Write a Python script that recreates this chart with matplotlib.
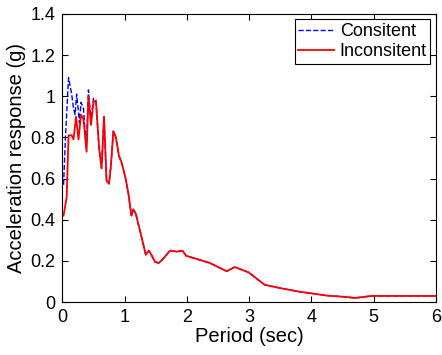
import numpy as np
import matplotlib.pyplot as plt

plt.rcParams['font.family'] = ['Liberation Sans', 'DejaVu Sans']

# shared part of both spectra (T > 0.6 s)
tail_t = [0.63, 0.67, 0.71, 0.75, 0.78, 0.82, 0.86, 0.91, 0.95, 1.01, 1.06, 1.11, 1.14,
          1.18, 1.22, 1.27, 1.34, 1.39, 1.43, 1.49, 1.55, 1.62, 1.73, 1.84, 1.93, 1.99,
          2.37, 2.64, 2.77, 2.99, 3.25, 3.55, 3.82, 3.97, 4.24, 4.56, 4.70, 4.97, 5.5, 6.0]
tail_a = [0.65, 0.90, 0.59, 0.575, 0.66, 0.83, 0.80, 0.71, 0.68, 0.61, 0.53, 0.42, 0.45,
          0.43, 0.38, 0.32, 0.23, 0.25, 0.23, 0.195, 0.19, 0.21, 0.25, 0.245, 0.25, 0.225,
          0.19, 0.15, 0.17, 0.145, 0.084, 0.065, 0.05, 0.044, 0.032, 0.025, 0.02, 0.03, 0.03, 0.03]

cons_t = [0.02, 0.05, 0.10, 0.15, 0.18, 0.205, 0.23, 0.26, 0.275, 0.30, 0.34, 0.385,
          0.42, 0.46, 0.50, 0.54, 0.59]
cons_a = [0.57, 0.80, 1.09, 1.01, 0.94, 0.91, 1.01, 0.92, 0.87, 0.97, 0.94, 0.75,
          1.03, 0.88, 0.99, 0.97, 0.75]

incons_t = [0.02, 0.07, 0.10, 0.15, 0.18, 0.22, 0.26, 0.30, 0.34, 0.39, 0.42, 0.46,
            0.50, 0.54, 0.59]
incons_a = [0.42, 0.51, 0.81, 0.81, 0.79, 0.90, 0.79, 0.91, 0.89, 0.73, 1.00, 0.86,
            0.97, 0.98, 0.75]

fig = plt.figure(figsize=(4.42, 3.55), dpi=100)
ax = fig.add_axes([0.141, 0.149, 0.845, 0.812])

ax.plot(cons_t + tail_t, cons_a + tail_a, '--', color='blue', linewidth=1.0, label='Consitent')
ax.plot(incons_t + tail_t, incons_a + tail_a, '-', color='red', linewidth=1.3, label='Inconsitent')

ax.set_xlim(0, 6)
ax.set_ylim(0, 1.4)
ax.set_xticks(np.arange(0, 7, 1))
ax.set_yticks(np.arange(0, 1.41, 0.2))
ax.set_yticklabels(['0', '0.2', '0.4', '0.6', '0.8', '1', '1.2', '1.4'])
ax.tick_params(direction='in', top=True, right=True, labelsize=13, length=4, pad=5)
ax.set_xlabel('Period (sec)', fontsize=14.5, labelpad=1)
ax.set_ylabel('Acceleration response (g)', fontsize=14.5, labelpad=3)

leg = ax.legend(loc='upper right', fontsize=13, fancybox=False, edgecolor='black',
                framealpha=1, borderaxespad=0.3, handlelength=2.0, handletextpad=0.3,
                borderpad=0.2, labelspacing=0.2)
leg.get_frame().set_linewidth(0.8)

fig.savefig('out.png', dpi=100)
